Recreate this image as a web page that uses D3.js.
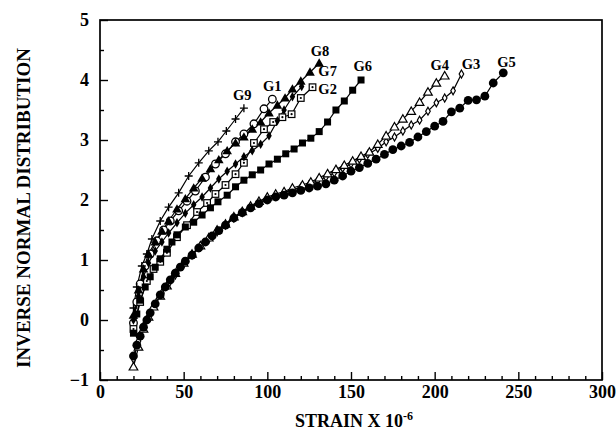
<!DOCTYPE html>
<html>
<head>
<meta charset="utf-8">
<script src="https://cdn.jsdelivr.net/npm/d3@7/dist/d3.min.js"></script>
<style>
  html, body { margin: 0; padding: 0; background: #fff; }
  svg { display: block; }
  text { font-family: "Liberation Serif", "Times New Roman", serif; font-weight: bold; fill: #000; }
</style>
</head>
<body>
<svg id="chart" width="616" height="432"></svg>
<script>
// Cumulative strain distributions, strain (x 10^-6) vs inverse normal value
const seriesNames = ["G1", "G2", "G3", "G4", "G5", "G6", "G7", "G8", "G9"];

const g1 = [[20,-0.05],[22,0.3],[24,0.6],[27,0.9],[30,1.1],[34,1.32],[38,1.5],[42,1.65],[47,1.82],[52,1.98],[57,2.15],[63,2.38],[69,2.6],[75,2.77],[81,2.97],[86,3.1],[92,3.27],[98,3.52],[103,3.68]];
const g2 = [[20,-0.15],[24,0.3],[28,0.65],[32,0.85],[36,0.97],[40,1.12],[46,1.38],[52,1.58],[58,1.8],[64,1.95],[69,2.1],[75,2.25],[81,2.43],[86,2.62],[92,2.95],[98,3.18],[103.5,3.3],[109,3.38],[114.5,3.43],[120,3.7],[127,3.88]];
const g3 = [[20,-0.65],[23,-0.35],[26,-0.1],[29,0.05],[33,0.25],[37,0.45],[41,0.6],[45,0.75],[50,0.93],[55,1.08],[60,1.22],[65,1.35],[70,1.47],[75,1.58],[80,1.7],[85,1.79],[90,1.88],[95,1.95],[100,2.03],[105,2.08],[110,2.12],[115,2.17],[120,2.21],[125,2.26],[130,2.32],[135,2.38],[140,2.45],[145,2.53],[150,2.6],[155,2.68],[160,2.76],[166,2.86],[171,2.97],[176,3.05],[181,3.15],[186,3.25],[191,3.33],[196,3.48],[201,3.62],[206,3.7],[211,3.82],[216,4.1]];
const g4 = [[20,-0.78],[23,-0.45],[26,-0.15],[29,0.05],[32,0.22],[36,0.4],[40,0.57],[45,0.78],[50,0.95],[55,1.1],[60,1.24],[65,1.37],[70,1.5],[75,1.6],[80,1.72],[85,1.81],[90,1.9],[95,1.98],[100,2.05],[105,2.1],[110,2.14],[115,2.2],[121,2.25],[126,2.3],[131,2.37],[136,2.44],[141,2.51],[146,2.58],[151,2.65],[156,2.73],[161,2.8],[166,2.93],[171,3.07],[176,3.22],[181,3.35],[186,3.48],[191,3.63],[196,3.8],[201,3.95],[206,4.07]];
const g5 = [[20,-0.6],[22,-0.42],[24,-0.27],[26,-0.12],[28,0.0],[30,0.12],[33,0.27],[36,0.42],[39,0.55],[42,0.67],[45,0.78],[48,0.88],[51,0.98],[55,1.08],[59,1.2],[63,1.3],[67,1.4],[71,1.49],[75,1.58],[80,1.7],[85,1.79],[90,1.87],[95,1.94],[100,2.0],[105,2.05],[110,2.08],[115,2.12],[120,2.16],[125,2.2],[130,2.23],[135,2.27],[140,2.33],[145,2.4],[150,2.48],[155,2.54],[160,2.61],[165,2.68],[170,2.76],[175,2.84],[180,2.9],[185,2.96],[190,3.05],[195,3.14],[200,3.23],[205,3.31],[210,3.47],[215,3.53],[220,3.66],[225,3.67],[230,3.73],[235,3.95],[241,4.12]];
const g6 = [[20,-0.22],[22,0.1],[24,0.33],[27,0.55],[30,0.72],[33,0.88],[36,1.02],[40,1.18],[43,1.3],[46,1.42],[51,1.55],[56,1.63],[61,1.75],[66,1.87],[70.5,1.97],[76,2.08],[81,2.22],[86,2.33],[91,2.42],[96,2.5],[101,2.6],[106,2.68],[111,2.77],[116,2.85],[121,2.95],[126,3.03],[131,3.14],[136,3.3],[141,3.5],[146,3.65],[151,3.83],[156,4.0]];
const g7 = [[20,0.0],[23,0.4],[26,0.72],[29,0.95],[33,1.15],[37,1.3],[41,1.45],[46,1.62],[51,1.78],[56,1.92],[61,2.05],[66,2.2],[71,2.35],[76,2.48],[81,2.6],[86,2.72],[91,2.82],[96,2.93],[101,3.07],[106,3.32],[110,3.5],[115,3.72],[120.5,3.89]];
const g8 = [[20,0.08],[23,0.5],[26,0.85],[29,1.1],[33,1.3],[37,1.48],[41,1.65],[46,1.85],[51,2.02],[56,2.2],[61,2.36],[66,2.52],[71,2.67],[76,2.82],[81,2.95],[86,3.05],[91,3.18],[96,3.3],[101,3.45],[106,3.58],[110.6,3.7],[115,3.85],[120,3.98],[125.5,4.13],[131,4.28]];
const g9 = [[20,0.2],[22,0.55],[25,0.9],[28,1.1],[31,1.35],[36,1.65],[41,1.88],[47,2.12],[53,2.4],[59,2.62],[65,2.82],[70.5,2.97],[75.5,3.15],[81,3.35],[86,3.53]];

const seriesData = [g1, g2, g3, g4, g5, g6, g7, g8, g9];
const markerKinds = ["openCircle", "dotSquare", "openDiamond", "openTriangle", "filledCircle", "filledSquare", "filledDiamond", "filledTriangle", "plus"];

// End-of-curve label anchors (strain, value)
const labelPos = [[103, 3.87], [130.5, 3.83], [221.7, 4.24], [203, 4.22], [243, 4.27], [157, 4.2], [130.5, 4.12], [131.5, 4.45], [85, 3.72]];

const xTicks = [0, 50, 100, 150, 200, 250, 300];
const yTicks = [-1, 0, 1, 2, 3, 4, 5];

const svg = d3.select("#chart");
const x = d3.scaleLinear().domain([0, 300]).range([100, 602]);
const y = d3.scaleLinear().domain([-1, 5]).range([380, 20]);

// Axes with inward ticks
const minorX = d3.range(0, 301, 10).filter(v => v % 50 !== 0);
const minorY = d3.range(-0.5, 5, 1);

function styleAxis(g) {
  g.select(".domain").remove();
  g.selectAll(".tick line").attr("stroke", "#000").attr("stroke-width", 1.4);
  g.selectAll(".tick text").style("font-size", "18px").style("font-family", "'Liberation Serif', serif").style("font-weight", "bold");
}

svg.append("g").attr("transform", "translate(0,380)")
  .call(d3.axisBottom(x).tickValues(xTicks).tickSize(-8).tickPadding(5).tickFormat(d3.format("d")))
  .call(styleAxis);
svg.append("g").attr("transform", "translate(0,380)")
  .call(d3.axisBottom(x).tickValues(minorX).tickSize(-4).tickFormat(""))
  .call(styleAxis);
svg.append("g").attr("transform", "translate(100,0)")
  .call(d3.axisLeft(y).tickValues(yTicks).tickSize(-8).tickPadding(11).tickFormat(d3.format("d")))
  .call(styleAxis);
svg.append("g").attr("transform", "translate(100,0)")
  .call(d3.axisLeft(y).tickValues(minorY).tickSize(-4).tickFormat(""))
  .call(styleAxis);

// Plot frame
svg.append("rect")
  .attr("x", x(0)).attr("y", y(5))
  .attr("width", x(300) - x(0)).attr("height", y(-1) - y(5))
  .attr("fill", "none").attr("stroke", "#000").attr("stroke-width", 1.7);

// Curves
const line = d3.line().x(d => x(d[0])).y(d => y(d[1]));
const plot = svg.append("g");

seriesData.forEach((data) => {
  plot.append("path").datum(data)
    .attr("d", line)
    .attr("fill", "none").attr("stroke", "#000").attr("stroke-width", 1.2);
});

const sym = (type, size) => d3.symbol().type(type).size(size)();

function drawMarker(g, kind) {
  switch (kind) {
    case "openCircle":
      g.append("circle").attr("r", 3.8).attr("fill", "#fff").attr("stroke", "#000").attr("stroke-width", 1.3); break;
    case "filledCircle":
      g.append("circle").attr("r", 4.4).attr("fill", "#000"); break;
    case "dotSquare":
      g.append("rect").attr("x", -3.3).attr("y", -3.3).attr("width", 6.6).attr("height", 6.6)
        .attr("fill", "#fff").attr("stroke", "#000").attr("stroke-width", 1.2);
      g.append("circle").attr("r", 1.1).attr("fill", "#000"); break;
    case "filledSquare":
      g.append("rect").attr("x", -3.5).attr("y", -3.5).attr("width", 7).attr("height", 7).attr("fill", "#000"); break;
    case "openTriangle":
      g.append("path").attr("d", sym(d3.symbolTriangle, 32)).attr("transform", "translate(0,0.7)")
        .attr("fill", "#fff").attr("stroke", "#000").attr("stroke-width", 1.2); break;
    case "filledTriangle":
      g.append("path").attr("d", sym(d3.symbolTriangle, 40)).attr("transform", "translate(0,0.7)").attr("fill", "#000"); break;
    case "openDiamond":
      g.append("path").attr("d", sym(d3.symbolDiamond, 18))
        .attr("fill", "#fff").attr("stroke", "#000").attr("stroke-width", 1.2); break;
    case "filledDiamond":
      g.append("path").attr("d", sym(d3.symbolDiamond, 26)).attr("fill", "#000"); break;
    case "plus":
      g.append("path").attr("d", "M-4,0H4M0,-4V4").attr("stroke", "#000").attr("stroke-width", 1.3); break;
  }
}

seriesData.forEach((data, i) => {
  plot.selectAll(null).data(data).enter().append("g")
    .attr("transform", d => `translate(${x(d[0])},${y(d[1])})`)
    .each(function () { drawMarker(d3.select(this), markerKinds[i]); });
});

// Series labels
svg.append("g").selectAll("text").data(seriesNames).enter().append("text")
  .attr("x", (d, i) => x(labelPos[i][0]))
  .attr("y", (d, i) => y(labelPos[i][1]))
  .attr("text-anchor", (d) => (d === "G2" || d === "G7") ? "start" : "middle")
  .attr("dominant-baseline", "middle")
  .style("font-size", "14.5px")
  .text(d => d);

// Axis titles
const xt = svg.append("text").attr("x", 354).attr("y", 427).attr("text-anchor", "middle").style("font-size", "18px");
xt.append("tspan").text("STRAIN X 10");
xt.append("tspan").attr("dy", -7).style("font-size", "12px").text("-6");

svg.append("text")
  .attr("transform", "translate(30,208) rotate(-90)")
  .attr("text-anchor", "middle")
  .style("font-size", "19px")
  .text("INVERSE NORMAL DISTRIBUTION");
</script>
</body>
</html>
